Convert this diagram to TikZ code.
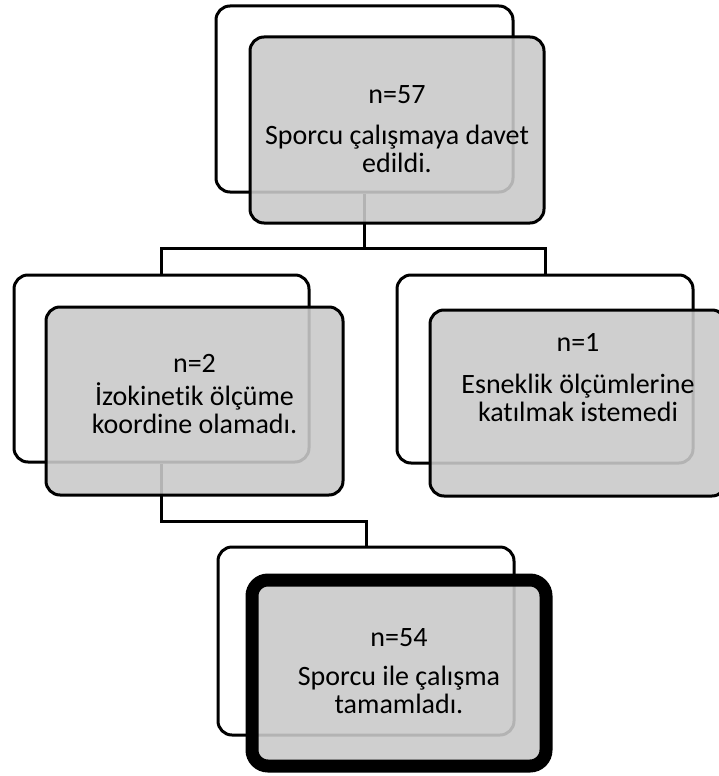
\documentclass[tikz,border=0pt]{standalone}
\usepackage{fontspec}
\setmainfont{Carlito}[Ligatures={NoCommon}]
\definecolor{boxgray}{RGB}{202,202,202}
\tikzset{
  backbox/.style={draw=black, line width=3pt, rounded corners=14pt, fill=white, inner sep=0pt},
  frontbox/.style={draw=black, line width=3pt, rounded corners=14pt, fill=boxgray, fill opacity=0.89, draw opacity=1, inner sep=0pt},
  finalbox/.style={frontbox, line width=13pt, rounded corners=16pt},
  conn/.style={draw=black, line width=3pt},
  txt/.style={anchor=base, inner sep=0pt, font=\fontsize{28}{30}\selectfont, text opacity=1}
}
\begin{document}
\begin{tikzpicture}[x=1pt,y=-1pt]
\clip (0,0) rectangle (719,776);
\fill[white] (0,0) rectangle (719,776);
% back boxes
\node[backbox, minimum width=297pt, minimum height=186pt] (b1) at (364.5,99) {};
\node[backbox, minimum width=295pt, minimum height=187pt] (b2) at (161.5,368.5) {};
\node[backbox, minimum width=296pt, minimum height=188pt] (b3) at (545,369) {};
\node[backbox, minimum width=296pt, minimum height=188pt] (b4) at (366,641) {};
% junction coordinates
\coordinate (j1) at (364.5,248);
\coordinate (j2) at (161.5,521);
% connectors
\draw[conn] (b1.south) -- (j1) -| (b2.north);
\draw[conn] (j1) -| (b3.north);
\draw[conn] (b2.south) -- (j2) -| (b4.north);
% front boxes
\node[frontbox, minimum width=294pt, minimum height=186pt] (f1) at (397,130) {};
\node[frontbox, minimum width=297pt, minimum height=188pt] (f2) at (194.5,401) {};
\node[frontbox, minimum width=296pt, minimum height=186pt] (f3) at (578,403) {};
\node[finalbox, minimum width=294pt, minimum height=186pt] (f4) at (399,673) {};
% texts
\node[txt] (t1a) at (397,103.3) {n=57};
\node[txt] (t1b) at (397,144) {Sporcu çalışmaya davet};
\node[txt] (t1c) at (397,172.7) {edildi.};
\node[txt] (t2a) at (194.5,372.7) {n=2};
\node[txt] (t2b) at (194.5,405) {İzokinetik ölçüme};
\node[txt] (t2c) at (194.5,433.3) {koordine olamadı.};
\node[txt] (t3a) at (578,351.7) {n=1};
\node[txt] (t3b) at (578,393.3) {Esneklik ölçümlerine};
\node[txt] (t3c) at (578,421.7) {katılmak istemedi};
\node[txt] (t4a) at (399,646) {n=54};
\node[txt] (t4b) at (399,685) {Sporcu ile çalışma};
\node[txt] (t4c) at (399,713.3) {tamamladı.};
\end{tikzpicture}
\end{document}
